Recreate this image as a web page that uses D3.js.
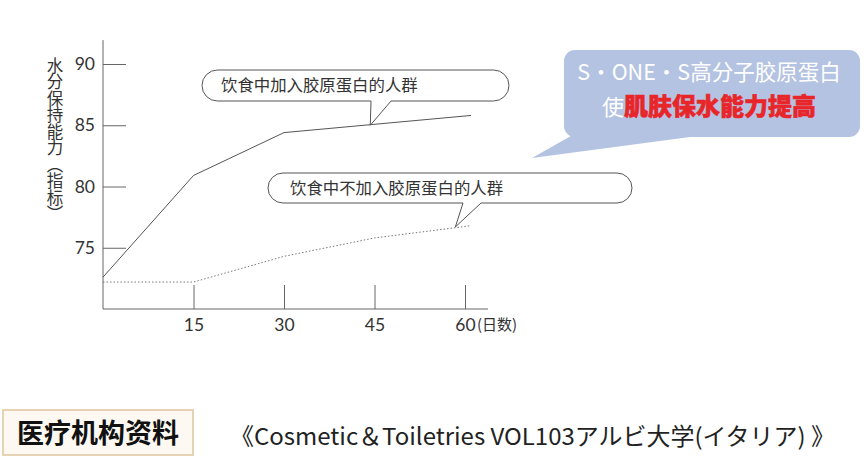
<!DOCTYPE html>
<html>
<head>
<meta charset="utf-8">
<script src="https://cdn.jsdelivr.net/npm/d3@7"></script>
<style>
  body { margin: 0; background: #fff; }
  svg { display: block; }
  text { font-family: "Noto Sans CJK SC", "Noto Sans", sans-serif; }
</style>
</head>
<body>
<svg id="main" width="864" height="457"></svg>
<script>
"use strict";

//data
const xTicks = [15, 30, 45, 60];
const yTicks = [75, 80, 85, 90];
const withDays = [0, 15, 30, 61];
const withValues = [72.6, 80.9, 84.4, 85.8];
const withoutDays = [0, 15, 30, 45, 61];
const withoutValues = [72.2, 72.2, 74.3, 75.8, 76.8];
const withLabel = "饮食中加入胶原蛋白的人群";
const withoutLabel = "饮食中不加入胶原蛋白的人群";
const yTitle = "水分保持能力（指标）";
const xUnit = "(日数)";
const noteLine1 = "S・ONE・S高分子胶原蛋白";
const noteLead = "使";
const noteRed = "肌肤保水能力提高";
const sourceTag = "医疗机构资料";
const sourceText = "《Cosmetic＆Toiletries VOL103アルビ大学(イタリア) 》";

const mySvg = d3.select("#main");

//scales
const x = d3.scaleLinear().domain([0, 60]).range([103, 465]);
const y = d3.scaleLinear().domain([70, 90]).range([309, 64]);

//axes
const xAxis = mySvg.append("g")
  .attr("transform", `translate(0,${y(70)})`)
  .call(d3.axisBottom(x).tickValues(xTicks).tickSize(-24).tickSizeOuter(0).tickPadding(10));
xAxis.select(".domain").attr("d", `M${x(0)},0H${x(63.8)}`);

const yAxis = mySvg.append("g")
  .attr("transform", `translate(${x(0)},0)`)
  .call(d3.axisLeft(y).tickValues(yTicks).tickSize(-23).tickSizeOuter(0).tickPadding(8));
yAxis.select(".domain").attr("d", `M0,${y(70)}V${y(91.95)}`);

mySvg.selectAll(".domain, .tick line").attr("stroke", "#666").attr("stroke-width", 1);
mySvg.selectAll(".tick text")
  .attr("fill", "#333")
  .style("font-family", "Lato, 'Noto Sans', sans-serif")
  .style("font-size", "17.5px");

//unit after the last x tick
mySvg.append("text")
  .attr("x", x(60) + 12)
  .attr("y", y(70) + 10)
  .attr("dy", "0.71em")
  .attr("fill", "#333")
  .style("font-size", "15px")
  .text(xUnit);

//vertical y title
mySvg.append("text")
  .attr("x", 55)
  .attr("y", 57)
  .attr("fill", "#333")
  .style("writing-mode", "vertical-rl")
  .style("font-size", "16.5px")
  .text(yTitle);

//lines
const line = d3.line()
  .x((d) => x(d[0]))
  .y((d) => y(d[1]));

mySvg.append("path")
  .datum(withDays.map((d, i) => [d, withValues[i]]))
  .attr("d", line)
  .attr("fill", "none")
  .attr("stroke", "#555")
  .attr("stroke-width", 1);

mySvg.append("path")
  .datum(withoutDays.map((d, i) => [d, withoutValues[i]]))
  .attr("d", line)
  .attr("fill", "none")
  .attr("stroke", "#777")
  .attr("stroke-width", 1)
  .attr("stroke-dasharray", "1.5,2");

//speech bubbles
const bubblePath = (x0, y0, x1, y1, t0, t1, px, py) => {
  const r = (y1 - y0) / 2;
  return `M${x0 + r},${y0}H${x1 - r}A${r},${r} 0 0 1 ${x1 - r},${y1}` +
    `H${t1}L${px},${py}L${t0},${y1}H${x0 + r}A${r},${r} 0 0 1 ${x0 + r},${y0}Z`;
}

const bubbles = [
  { box: [202, 70, 509, 101], tail: [371, 391], tip: [x(44.3), y(85.0)], label: withLabel, tx: 221 },
  { box: [268, 173, 632, 203], tail: [463, 481], tip: [x(58.4), y(76.7)], label: withoutLabel, tx: 290 }
];

bubbles.forEach((b) => {
  mySvg.append("path")
    .attr("d", bubblePath(b.box[0], b.box[1], b.box[2], b.box[3], b.tail[0], b.tail[1], b.tip[0], b.tip[1]))
    .attr("fill", "#fff")
    .attr("stroke", "#555")
    .attr("stroke-width", 1);
  mySvg.append("text")
    .attr("x", b.tx)
    .attr("y", (b.box[1] + b.box[3]) / 2)
    .attr("dy", "0.36em")
    .attr("fill", "#333")
    .style("font-size", "16.4px")
    .text(b.label);
});

//blue note
mySvg.append("path")
  .attr("d", "M532,158L585,128L690,137Z")
  .attr("fill", "#b4c3e1");
mySvg.append("rect")
  .attr("x", 564).attr("y", 50)
  .attr("width", 296).attr("height", 87)
  .attr("rx", 11)
  .attr("fill", "#b4c3e1");

mySvg.append("text")
  .attr("x", 709)
  .attr("y", 72)
  .attr("dy", "0.36em")
  .attr("text-anchor", "middle")
  .attr("fill", "#fff")
  .style("font-size", "21.5px")
  .text(noteLine1);

const note2 = mySvg.append("text")
  .attr("x", 709)
  .attr("y", 107)
  .attr("dy", "0.36em")
  .attr("text-anchor", "middle")
  .style("font-size", "22px");
note2.append("tspan")
  .attr("fill", "#fff")
  .text(noteLead);
note2.append("tspan")
  .attr("fill", "#e8262a")
  .attr("stroke", "#e8262a")
  .attr("stroke-width", 0.6)
  .style("font-weight", "900")
  .style("font-size", "24px")
  .text(noteRed);

//source footer
mySvg.append("rect")
  .attr("x", 3).attr("y", 410)
  .attr("width", 190).attr("height", 45)
  .attr("fill", "#fdf9f2")
  .attr("stroke", "#e6d2b4")
  .attr("stroke-width", 2);

mySvg.append("text")
  .attr("x", 98)
  .attr("y", 433)
  .attr("dy", "0.36em")
  .attr("text-anchor", "middle")
  .attr("fill", "#111")
  .style("font-weight", "bold")
  .style("font-size", "27px")
  .text(sourceTag);

mySvg.append("text")
  .attr("x", 230)
  .attr("y", 437)
  .attr("dy", "0.36em")
  .attr("fill", "#222")
  .attr("textLength", 605)
  .attr("lengthAdjust", "spacingAndGlyphs")
  .style("font-family", "'Noto Sans CJK JP', sans-serif")
  .style("font-size", "23.5px")
  .text(sourceText);
</script>
</body>
</html>
